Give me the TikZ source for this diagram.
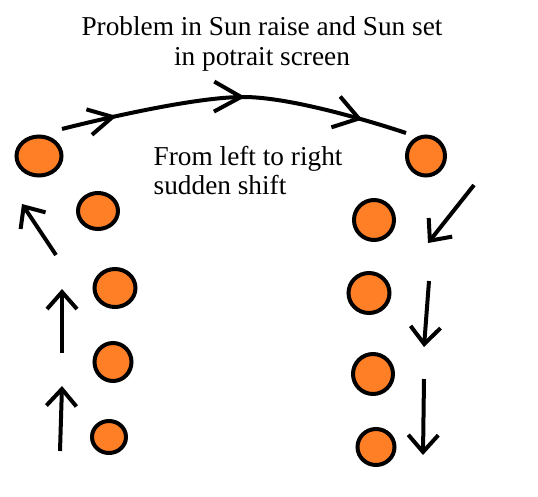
\documentclass[tikz,border=0pt]{standalone}
\usepackage{fontspec}
\setmainfont{Liberation Serif}
\usetikzlibrary{arrows.meta,shapes.geometric,decorations.markings}
\definecolor{sc}{RGB}{255,127,39}
\tikzset{sun/.style={ellipse,draw,fill=sc,line width=4pt,inner sep=0pt},
 wire/.style={line width=4pt},
 arr/.style={wire,-{Straight Barb[length=17pt,width=30pt,line width=4pt]}},
 lbl/.style={font=\fontsize{27.3}{29.5}\selectfont,inner sep=0pt}}
\begin{document}
\begin{tikzpicture}[x=1pt,y=-1pt]
\useasboundingbox (0,0) rectangle (538,496);
% suns, left column then right column
\foreach \n/\x/\y/\w/\h in {l1/39/156/45/39,l2/98/211/40/36,l3/115/288/41/38,l4/113/362/37/38,l5/109/437/34/32,
 r1/426/156/38/39,r2/374/220/40/40,r3/369/293/41/40,r4/373/374/40/40,r5/376/447/37/36}
 {\node[sun,minimum width=\w pt,minimum height=\h pt] (\n) at (\x,\y) {};}
% texts
\node[lbl,align=center,anchor=base] (title) at (262,65) {Problem in Sun raise and Sun set\\in potrait screen};
\node[lbl,align=left,anchor=base west] (note) at (153.5,194.5) {From left to right\\sudden shift};
% path over the top
\draw[wire,decoration={markings,
  mark=at position .16 with {\arrow{Straight Barb[length=24pt,width=26pt,line width=4pt]}},
  mark=at position .53 with {\arrow{Straight Barb[length=27pt,width=30pt,line width=4pt]}},
  mark=at position .87 with {\arrow{Straight Barb[length=24pt,width=32pt,line width=4pt]}}},postaction=decorate]
  plot[smooth,tension=.6] coordinates {(62,129) (245,97) (406,133)};
% rising side
\draw[arr] (60,451)--(62,386);
\draw[arr] (62,353)--(62,289);
\draw[arr] (56,255)--(22,204);
% setting side
\draw[arr] (474,185)--(428,243);
\draw[arr] (429,281)--(424,347);
\draw[arr] (424,379)--(423,455);
\end{tikzpicture}
\end{document}
